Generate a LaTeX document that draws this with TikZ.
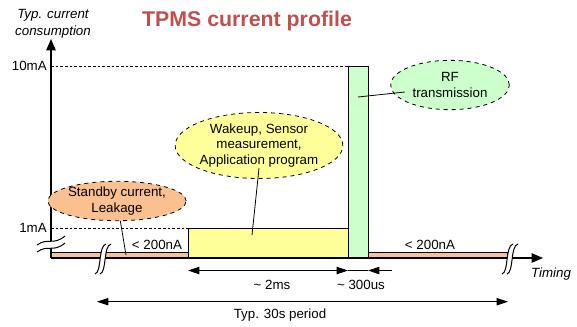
\documentclass[tikz,border=0pt]{standalone}
\usepackage{fontspec}
\setmainfont{Liberation Sans}
\usetikzlibrary{shapes.geometric,arrows.meta}
\definecolor{peach}{RGB}{250,192,144}
\definecolor{ylw}{RGB}{255,255,153}
\definecolor{grn}{RGB}{204,255,204}
\definecolor{ttl}{RGB}{192,80,77}
\tikzset{dimtip/.tip={Triangle[length=8.5pt,width=5.5pt]}}
\begin{document}
\begin{tikzpicture}[x=0.75pt,y=-0.75pt,
  font=\fontsize{10}{11.6}\selectfont,
  bubble/.style={ellipse, draw, dashed, line width=0.6pt, inner sep=0pt, align=center},
  lbl/.style={inner sep=0pt},
  axisline/.style={line width=1.1pt, -{Triangle[length=8.5pt,width=7pt]}},
  boxline/.style={line width=0.75pt},
  dimline/.style={line width=0.6pt},
  pointer/.style={line width=0.6pt},
  guide/.style={line width=0.5pt, dash pattern=on 2pt off 1.5pt}
]
\useasboundingbox (0,0) rectangle (577,326);

% title
\node[lbl, font=\fontsize{16}{18}\selectfont\bfseries, text=ttl] (title) at (247,21) {TPMS current profile};

% axis labels
\node[lbl, font=\fontsize{10}{12.8}\selectfont\itshape, align=center] (ylab) at (53,24) {Typ. current\\consumption};
\node[lbl, font=\fontsize{10}{11}\selectfont\itshape] (xlab) at (551,274) {Timing};

% guide lines
\draw[guide] (51,66) -- (348,66);
\draw[guide] (51,228) -- (188,228);
\node[lbl, anchor=east] (l10) at (47,66) {10mA};
\node[lbl, anchor=east] (l1) at (47,228) {1mA};

% strips and boxes
\draw[boxline, fill=peach] (51,252) rectangle (188,258);
\draw[boxline, fill=peach] (368,252) rectangle (507,258);
\draw[boxline, fill=ylw] (188,228) rectangle (348,258);
\draw[boxline, fill=grn] (348,66) rectangle (368,258);

% axes
\draw[axisline] (51,258) -- (51,39);
\draw[axisline] (51,258) -- (543,258);

% y axis break
\fill[white] (37,245) .. controls (48,237) and (53,246) .. (65,236)
  -- (65,243) .. controls (53,253) and (48,244) .. (37,252) -- cycle;
\draw[line width=0.75pt] (37,245) .. controls (48,237) and (53,246) .. (65,236);
\draw[line width=0.75pt] (37,252) .. controls (48,244) and (53,253) .. (65,243);

% x axis breaks
\foreach \cx in {103,510}{
  \fill[white] (\cx-8,274) .. controls (\cx-1,272) and (\cx-5,246) .. (\cx+3,244)
    -- (\cx+8,244) .. controls (\cx,246) and (\cx+4,272) .. (\cx-3,274) -- cycle;
  \draw[line width=0.75pt] (\cx-8,274) .. controls (\cx-1,272) and (\cx-5,246) .. (\cx+3,244);
  \draw[line width=0.75pt] (\cx-3,274) .. controls (\cx+4,272) and (\cx,246) .. (\cx+8,244);
}

% level labels
\node[lbl] (n1) at (157,245) {< 200nA};
\node[lbl] (n2) at (430,245) {< 200nA};

% bubbles
\node[bubble, fill=peach, minimum width=90pt, minimum height=28.5pt] (sb) at (117,201) {Standby current,\\Leakage};
\node[bubble, fill=ylw, minimum width=118.5pt, minimum height=49.5pt] (wk) at (259,145.5) {Wakeup, Sensor\\measurement,\\Application program};
\node[bubble, fill=grn, minimum width=89pt, minimum height=37pt] (rf) at (450,85) {RF\\transmission};

% pointers
\coordinate (p1) at (126,255);
\coordinate (p2) at (252,235);
\coordinate (p3) at (358,97);
\draw[pointer] (sb) -- (p1);
\draw[pointer] ([yshift=8pt]wk.south) -- (p2);
\draw[pointer] ([xshift=10.9pt,yshift=-5.25pt]rf.west) -- (p3);

% dimension arrows
\coordinate (d1) at (188,270.5);
\coordinate (d2) at (348,270.5);
\coordinate (d3) at (368,270.5);
\coordinate (d4) at (392,270.5);
\draw[dimline, {dimtip}-{dimtip}] (d1) -- (d2);
\draw[dimline] (d2) -- (d3);
\draw[dimline, -{dimtip}] (d4) -- (d3);
\coordinate (e1) at (97,301.7);
\coordinate (e2) at (508,301.7);
\draw[dimline, {dimtip}-{dimtip}] (e1) -- (e2);

\node[lbl] (t1) at (272,285) {\textasciitilde{} 2ms};
\node[lbl] (t2) at (361,285) {\textasciitilde{} 300us};
\node[lbl] (t3) at (280,315) {Typ. 30s period};
\end{tikzpicture}
\end{document}
